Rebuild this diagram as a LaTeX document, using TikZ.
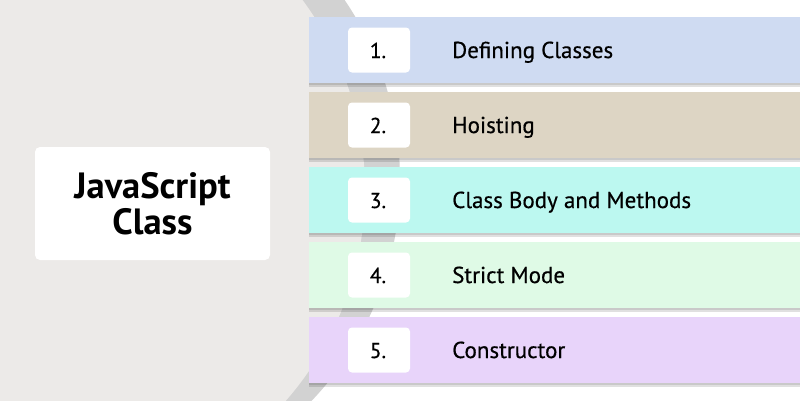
\documentclass[tikz,border=0pt]{standalone}
\usepackage{fontspec}
\setmainfont{PT Sans}
\newfontfamily\labfont[FakeBold=0.5]{PT Sans}
\definecolor{bgc}{RGB}{236,234,232}
\definecolor{ringc}{RGB}{210,210,210}
\definecolor{cA}{RGB}{207,219,242}
\definecolor{cB}{RGB}{221,213,196}
\definecolor{cC}{RGB}{188,248,240}
\definecolor{cD}{RGB}{223,250,230}
\definecolor{cE}{RGB}{232,212,250}
\begin{document}
\begin{tikzpicture}[x=1pt,y=-1pt,
  bar/.style={draw=none,minimum width=492pt,minimum height=66pt,inner sep=0pt},
  numbox/.style={fill=white,rounded corners=4pt,minimum width=62pt,minimum height=45pt,inner sep=0pt},
  numtxt/.style={font=\labfont\fontsize{21.5}{24}\selectfont,anchor=base,inner sep=0pt},
  labtxt/.style={font=\labfont\fontsize{23}{26}\selectfont,anchor=base west,inner sep=0pt},
  titlebox/.style={fill=white,rounded corners=5pt,minimum width=235pt,minimum height=113pt,inner sep=0pt},
  titletxt/.style={font=\fontsize{36.5}{40}\selectfont\bfseries,anchor=base,inner sep=0pt}]
\useasboundingbox (0,0) rectangle (800,400);
\fill[white] (0,0) rectangle (800,400);
\begin{scope}
\clip (0,0) rectangle (800,400);
\fill[ringc] (80,180) circle[radius=320pt];
\fill[bgc] (45,190) circle[radius=320pt];
\end{scope}
% bars
\foreach \i/\c/\n/\t in {1/cA/1./Defining Classes,2/cB/2./Hoisting,3/cC/3./Class Body and Methods,4/cD/4./Strict Mode,5/cE/5./Constructor}{
  \pgfmathsetmacro{\yc}{50+75*(\i-1)}
  \fill[black,opacity=0.12] (309,\yc-33+2) rectangle (800,\yc+33+4);
  \fill[black,opacity=0.10] (309,\yc-33+1) rectangle (800,\yc+33+2);
  \node[bar,fill=\c] (bar\i) at (555,\yc) {};
  \node[numbox] (box\i) at (379,\yc) {};
  \node[numtxt] (num\i) at (378,\yc+8) {\n};
  \node[labtxt] (lab\i) at (452,\yc+8) {\t};
}
\node[titlebox] (title) at (152.5,203.5) {};
\node[titletxt] (t1) at (152.5,198) {JavaScript};
\node[titletxt] (t2) at (152.5,234) {Class};
\end{tikzpicture}
\end{document}
